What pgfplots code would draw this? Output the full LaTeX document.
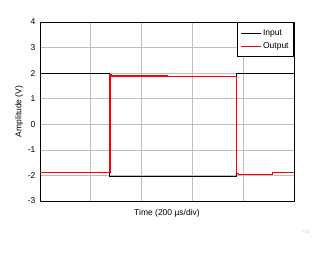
\documentclass[border=0pt]{standalone}
\usepackage{pgfplots}
\pgfplotsset{compat=1.18}
\usepackage{fontspec}
\setmainfont{Liberation Sans}
\begin{document}
\begin{tikzpicture}
\path[use as bounding box] (-40pt,-53pt) rectangle (287pt,201pt);
\begin{axis}[
  at={(0pt,0pt)}, anchor=south west,
  scale only axis, width=254pt, height=179pt,
  xmin=0, xmax=10, ymin=-3, ymax=4,
  xtick={0,2,4,6,8,10}, xticklabels={},
  ytick={-3,-2,-1,0,1,2,3,4},
  major tick length=0pt,
  grid=major,
  major grid style={color=black!25, line width=0.7pt},
  axis line style={line width=0.9pt},
  tick label style={font=\fontsize{8.5}{9}\selectfont},
  /pgf/number format/assume math mode=true,
  yticklabel style={xshift=-1pt},
  xlabel={Time (200 µs/div)},
  ylabel={Amplitude (V)},
  label style={font=\fontsize{8.5}{9}\selectfont},
  xlabel style={yshift=2pt},
  ylabel style={yshift=-2pt},
  legend style={at={(1,1)}, anchor=north east, font=\fontsize{8.5}{9}\selectfont,
    draw=black, line width=0.8pt, inner xsep=3pt, inner ysep=5pt, row sep=1.5pt, cells={anchor=west}},
  legend image code/.code={\draw[#1, line width=0.9pt] (0pt,0pt) -- (20pt,0pt);},
  legend cell align=left,
]
\addplot[black, line width=0.9pt] coordinates {
  (0,2) (2.736,2) (2.736,-2.05) (7.72,-2.05) (7.72,2) (10,2)
};
\addlegendentry{Input}
\addplot[red, line width=1.1pt] coordinates {
  (0,-1.90) (2.756,-1.90) (2.756,1.95) (2.80,1.95) (2.80,1.89) (5.0,1.89) (5.0,1.86)
  (7.74,1.86) (7.74,-1.91) (7.80,-1.91) (7.80,-1.95) (7.99,-1.95) (7.99,-1.97) (9.17,-1.97) (9.17,-1.90) (10,-1.90)
};
\addlegendentry{Output}
\end{axis}
\node[font=\fontsize{4}{4}\selectfont, text=black!25] at (266pt,-31pt) {T13};
\end{tikzpicture}
\end{document}
